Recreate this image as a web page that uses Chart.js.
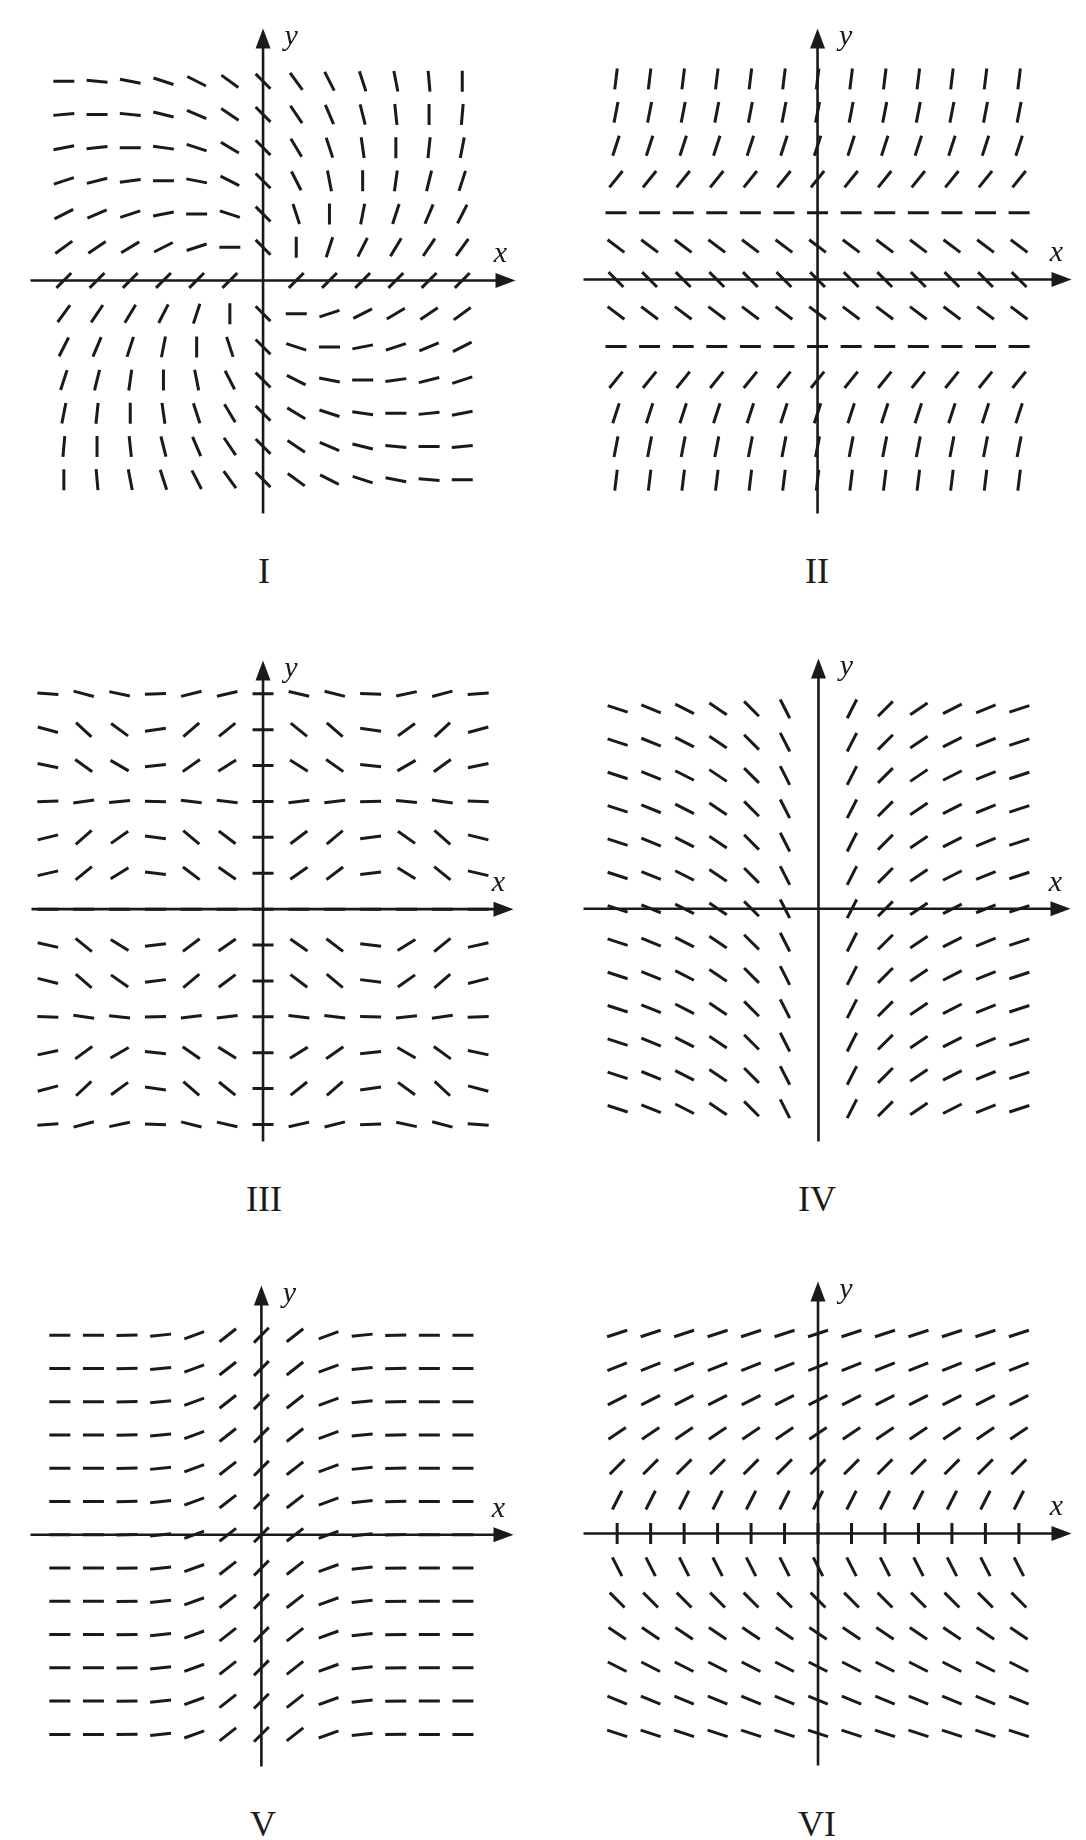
<!DOCTYPE html>
<html>
<head>
<meta charset="utf-8">
<script src="https://cdn.jsdelivr.net/npm/chart.js@4.4.1/dist/chart.umd.min.js"></script>
<style>
  html, body { margin: 0; padding: 0; background: #fff; }
  #page { position: relative; width: 1086px; height: 1840px; overflow: hidden; background: #fff; }
  #page canvas { position: absolute; }
  .numeral {
    position: absolute; width: 100px; line-height: 1; text-align: center;
    font-family: "Liberation Serif", "Times New Roman", serif; font-size: 36px; color: #1c1c1c;
  }
</style>
</head>
<body>
<div id="page"></div>
<script>
// Grid positions (in grid steps) used by every direction field, left→right and bottom→top.
const gridSteps = [-6, -5, -4, -3, -2, -1, 0, 1, 2, 3, 4, 5, 6];

// Segment angles in degrees (counter-clockwise from +x). Rows run from the top row down.
const slopeAnglesI = [
  [0, -5, -11, -18, -27, -36, -45, -54, -63, -72, -79, -85, 90],
  [5, 0, -6, -14, -23, -34, -45, -56, -67, -76, -84, 90, 85],
  [11, 6, 0, -8, -18, -31, -45, -59, -72, -82, 90, 84, 79],
  [18, 14, 8, 0, -11, -27, -45, -63, -79, 90, 82, 76, 72],
  [27, 23, 18, 11, 0, -18, -45, -72, 90, 79, 72, 67, 63],
  [36, 34, 31, 27, 18, 0, -45, 90, 72, 63, 59, 56, 54],
  [45, 45, 45, 45, 45, 45, null, 45, 45, 45, 45, 45, 45],
  [54, 56, 59, 63, 72, 90, -45, 0, 18, 27, 31, 34, 36],
  [63, 67, 72, 79, 90, -72, -45, -18, 0, 11, 18, 23, 27],
  [72, 76, 82, 90, -79, -63, -45, -27, -11, 0, 8, 14, 18],
  [79, 84, 90, -82, -72, -59, -45, -31, -18, -8, 0, 6, 11],
  [85, 90, -84, -76, -67, -56, -45, -34, -23, -14, -6, 0, 5],
  [90, -85, -79, -72, -63, -54, -45, -36, -27, -18, -11, -5, 0]
];

// Field II: the angle only changes from row to row (top row first).
const rowAnglesII = [83, 79, 72, 51, 0, -37, -45, -37, 0, 51, 72, 79, 83];

const slopeAnglesIII = [
  [-4, -15, -12, 2, 14, 13, 0, -13, -14, -2, 12, 15, 4],
  [-15, -43, -36, 8, 41, 39, 0, -39, -41, -8, 36, 43, 15],
  [-12, -36, -30, 6, 35, 32, 0, -32, -35, -6, 30, 36, 12],
  [2, 8, 6, -1, -7, -7, 0, 7, 7, 1, -6, -8, -2],
  [14, 41, 35, -7, -40, -37, 0, 37, 40, 7, -35, -41, -14],
  [13, 39, 32, -7, -37, -35, 0, 35, 37, 7, -32, -39, -13],
  [0, 0, 0, 0, 0, 0, 0, 0, 0, 0, 0, 0, 0],
  [-13, -39, -32, 7, 37, 35, 0, -35, -37, -7, 32, 39, 13],
  [-14, -41, -35, 7, 40, 37, 0, -37, -40, -7, 35, 41, 14],
  [-2, -8, -6, 1, 7, 7, 0, -7, -7, -1, 6, 8, 2],
  [12, 36, 30, -6, -35, -32, 0, 32, 35, 6, -30, -36, -12],
  [15, 43, 36, -8, -41, -39, 0, 39, 41, 8, -36, -43, -15],
  [4, 15, 12, -2, -14, -13, 0, 13, 14, 2, -12, -15, -4]
];

// Fields IV and V: the angle only changes from column to column (left column first).
const columnAnglesIV = [-18, -22, -27, -34, -45, -63, null, 63, 45, 34, 27, 22, 18];
const columnAnglesV = [0, 0, 1, 6, 20, 38, 45, 38, 20, 6, 1, 0, 0];

// Field VI: by row again (top row first).
const rowAnglesVI = [18, 22, 27, 34, 45, 63, 90, -63, -45, -34, -27, -22, -18];

const panelLabels = ['I', 'II', 'III', 'IV', 'V', 'VI'];

const INK = '#1a1a1a';

// Page layout: canvas box [left, top, width, height], axis origin in page pixels,
// pixels per grid step, and where the numeral sits.
const panels = [
  { label: panelLabels[0], kind: 'grid', angles: slopeAnglesI,
    box: [17, 15, 512, 512], origin: [262.5, 281], unit: [35.05, 35.05], tag: [264, 570] },
  { label: panelLabels[1], kind: 'row', angles: rowAnglesII,
    box: [570, 15, 515, 512], origin: [817, 280], unit: [35.45, 35.3], tag: [817, 570] },
  { label: panelLabels[2], kind: 'grid', angles: slopeAnglesIII,
    box: [18, 647, 509, 508], origin: [262.5, 909.6], unit: [37.87, 37.9], tag: [264, 1198] },
  { label: panelLabels[3], kind: 'col', angles: columnAnglesIV,
    box: [570, 645, 514, 510], origin: [818, 909.3], unit: [35.33, 35.19], tag: [817, 1198] },
  { label: panelLabels[4], kind: 'col', angles: columnAnglesV,
    box: [17, 1272, 510, 508], origin: [260.8, 1535.3], unit: [35.47, 35.13], tag: [263, 1823] },
  { label: panelLabels[5], kind: 'row', angles: rowAnglesVI,
    box: [570, 1268, 515, 511], origin: [817.5, 1534], unit: [35.33, 35.19], tag: [817, 1823] }
];

function angleAt(panel, r, c) {
  if (panel.kind === 'grid') return panel.angles[r][c];
  if (panel.kind === 'row') return panel.angles[r];
  return panel.angles[c];
}

function buildPoints(panel) {
  const pts = [];
  const n = gridSteps.length;
  for (let r = 0; r < n; r++) {
    const yv = gridSteps[n - 1 - r];
    for (let c = 0; c < n; c++) {
      const a = angleAt(panel, r, c);
      if (a === null || a === undefined) continue;
      pts.push({ x: gridSteps[c], y: yv, a: a });
    }
  }
  return pts;
}

// Axes through the origin with arrowheads and italic axis names.
const crossAxes = {
  id: 'crossAxes',
  beforeDatasetsDraw(chart) {
    const { ctx, chartArea: a, scales } = chart;
    const x0 = scales.x.getPixelForValue(0);
    const y0 = scales.y.getPixelForValue(0);
    ctx.save();
    ctx.strokeStyle = INK;
    ctx.fillStyle = INK;
    ctx.lineWidth = 2.6;
    ctx.beginPath();
    ctx.moveTo(a.left, y0); ctx.lineTo(a.right - 10, y0);
    ctx.moveTo(x0, a.bottom); ctx.lineTo(x0, a.top + 10);
    ctx.stroke();
    ctx.beginPath();
    ctx.moveTo(a.right, y0); ctx.lineTo(a.right - 20, y0 - 7.5); ctx.lineTo(a.right - 20, y0 + 7.5);
    ctx.closePath(); ctx.fill();
    ctx.beginPath();
    ctx.moveTo(x0, a.top); ctx.lineTo(x0 - 7.5, a.top + 20); ctx.lineTo(x0 + 7.5, a.top + 20);
    ctx.closePath(); ctx.fill();
    ctx.font = 'italic 30px "Liberation Serif", "Times New Roman", serif';
    ctx.textAlign = 'center';
    ctx.textBaseline = 'middle';
    ctx.fillText('x', a.right - 15, y0 - 26);
    ctx.fillText('y', x0 + 28, a.top + 9);
    ctx.restore();
  }
};

const page = document.getElementById('page');

panels.forEach(p => {
  const [left, top, w, h] = p.box;
  const canvas = document.createElement('canvas');
  canvas.width = w; canvas.height = h;
  canvas.style.left = left + 'px'; canvas.style.top = top + 'px';
  canvas.style.width = w + 'px'; canvas.style.height = h + 'px';
  page.appendChild(canvas);

  const ox = p.origin[0] - left, oy = p.origin[1] - top;
  const xMin = -ox / p.unit[0], xMax = (w - ox) / p.unit[0];
  const yMax = oy / p.unit[1], yMin = -(h - oy) / p.unit[1];

  new Chart(canvas, {
    type: 'scatter',
    data: {
      datasets: [{
        data: buildPoints(p),
        showLine: false,
        pointStyle: 'line',
        pointRadius: 10.5,
        pointHoverRadius: 10.5,
        pointBorderColor: INK,
        pointBackgroundColor: INK,
        pointBorderWidth: 3,
        pointHoverBorderWidth: 3,
        pointRotation: ctx => (ctx.raw ? -ctx.raw.a : 0)
      }]
    },
    options: {
      responsive: false,
      maintainAspectRatio: false,
      animation: false,
      devicePixelRatio: 1,
      events: [],
      layout: { padding: 0 },
      plugins: { legend: { display: false }, tooltip: { enabled: false } },
      scales: {
        x: { type: 'linear', display: false, min: xMin, max: xMax },
        y: { type: 'linear', display: false, min: yMin, max: yMax }
      }
    },
    plugins: [crossAxes]
  });

  const tag = document.createElement('div');
  tag.className = 'numeral';
  tag.textContent = p.label;
  tag.style.left = (p.tag[0] - 50) + 'px';
  tag.style.top = (p.tag[1] - 17.5) + 'px';
  page.appendChild(tag);
});
</script>
</body>
</html>
